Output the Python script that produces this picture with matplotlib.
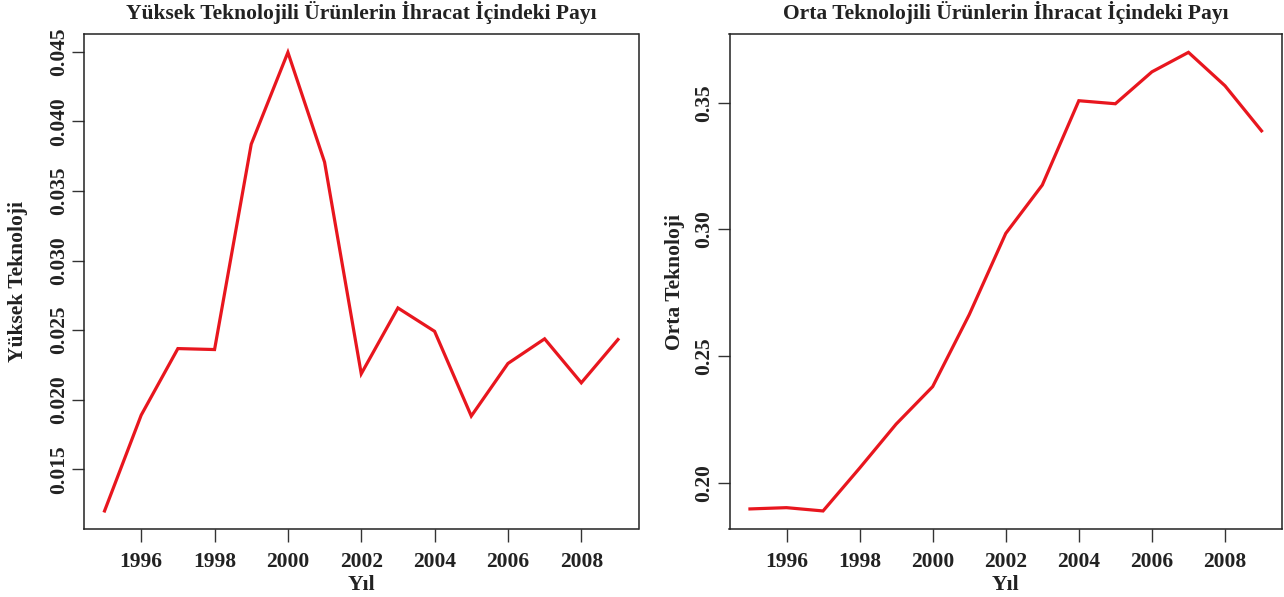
import numpy as np
import matplotlib.pyplot as plt

plt.rcParams['font.family'] = ['Liberation Serif', 'DejaVu Serif']
plt.rcParams['font.weight'] = 'bold'

years = list(range(1995, 2010))

# yuksek teknoloji payi
yuksek = [0.0120, 0.01889, 0.02367, 0.02360, 0.03836, 0.04496, 0.03707, 0.02186,
          0.02659, 0.02491, 0.01882, 0.02260, 0.02437, 0.02121, 0.02432]

# orta teknoloji payi
orta = [0.1896, 0.1901, 0.1888, 0.2057, 0.2231, 0.2379, 0.2663, 0.2984,
        0.3175, 0.3508, 0.3496, 0.3622, 0.3699, 0.3567, 0.3389]

x_ticks = [1996, 1998, 2000, 2002, 2004, 2006, 2008]
y_ticks_1 = [0.015, 0.020, 0.025, 0.030, 0.035, 0.040, 0.045]
y_labels_1 = ['0.015', '0.020', '0.025', '0.030', '0.035', '0.040', '0.045']
y_ticks_2 = [0.20, 0.25, 0.30, 0.35]
y_labels_2 = ['0.20', '0.25', '0.30', '0.35']

titles = ['Yüksek Teknolojili Ürünlerin İhracat İçindeki Payı',
          'Orta Teknolojili Ürünlerin İhracat İçindeki Payı']
ylabels = ['Yüksek Teknoloji', 'Orta Teknoloji']

W, H = 1284, 597
fig = plt.figure(figsize=(W / 100, H / 100), dpi=100)

# piksel kutulari (sol, sag, ust, alt)
boxes = [(84, 638.5, 34, 529.3), (729.5, 1282, 34, 529.3)]
ylab_x = [18, 675]

panels = [(yuksek, y_ticks_1, y_labels_1), (orta, y_ticks_2, y_labels_2)]
fs = 15.5

for i, (vals, yt, yl) in enumerate(panels):
    l, r, t, b = boxes[i]
    ax = fig.add_axes([l / W, (H - b) / H, (r - l) / W, (b - t) / H])
    ax.plot(years, vals, color='#E8161E', linewidth=2.3, solid_joinstyle='miter')

    # R tarzi %4 genisletme
    rx = years[-1] - years[0]
    ax.set_xlim(years[0] - 0.04 * rx, years[-1] + 0.04 * rx)
    ry = max(vals) - min(vals)
    ax.set_ylim(min(vals) - 0.04 * ry, max(vals) + 0.04 * ry)

    ax.set_xticks(x_ticks)
    ax.set_xticklabels([str(v) for v in x_ticks], fontsize=fs, fontweight='bold', color='#222222')
    ax.set_yticks(yt)
    ax.set_yticklabels(yl, fontsize=fs, fontweight='bold', color='#222222',
                       rotation=90, va='center')
    ax.tick_params(axis='x', length=9, width=1.0, color='#333333', pad=7)
    ax.tick_params(axis='y', length=9, width=1.0, color='#333333', pad=2)

    for s in ax.spines.values():
        s.set_color('#222222')
        s.set_linewidth(1.1)

    ax.set_title(titles[i], fontsize=fs, fontweight='bold', color='#222222', pad=11)

    ax.set_xlabel('Yıl', fontsize=fs, fontweight='bold', color='#222222')
    ax.xaxis.set_label_coords(0.5, (b - 585) / (b - t))
    ax.xaxis.label.set_va('center')
    ax.set_ylabel(ylabels[i], fontsize=fs, fontweight='bold', color='#222222')
    ax.yaxis.set_label_coords((ylab_x[i] - l) / (r - l), 0.5)
    ax.yaxis.label.set_va('center')

fig.savefig('out.png', dpi=100)
